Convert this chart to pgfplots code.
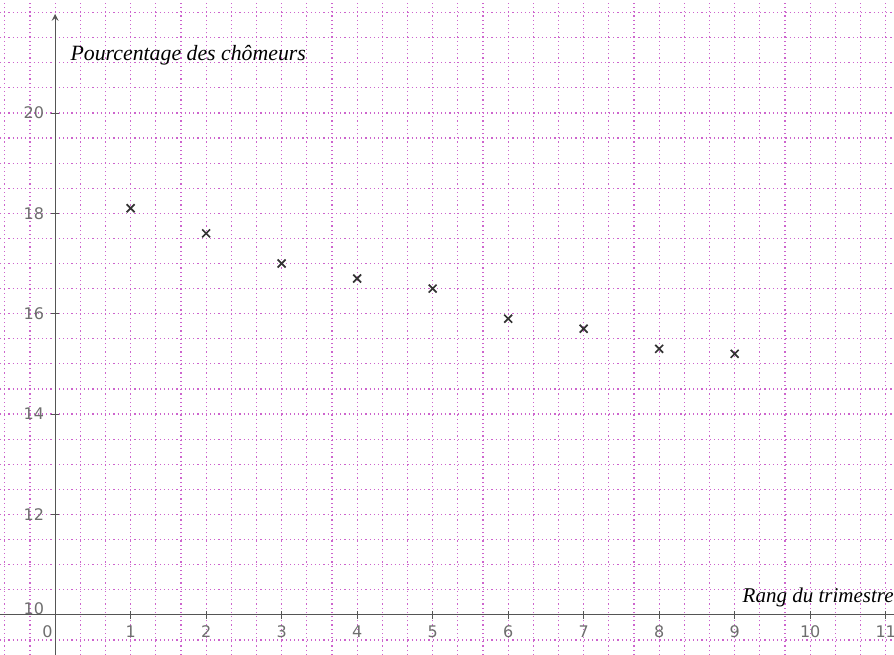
\documentclass[border=0pt]{standalone}
\usepackage{fontspec}
\setmainfont{Liberation Serif}
\setsansfont{DejaVu Sans}
\usepackage{pgfplots}
\pgfplotsset{compat=1.18}
\definecolor{gridmag}{RGB}{205,100,205}
\definecolor{axgray}{RGB}{85,85,85}
\definecolor{labgray}{RGB}{110,110,110}

\begin{document}
\begin{tikzpicture}
\begin{axis}[
    scale only axis,
    width=447pt, height=327.5pt,
    xmin=-0.73, xmax=11.11,
    ymin=9.2, ymax=22.25,
    axis x line=bottom,
    axis y line=middle,
    axis x line shift=-20.1pt,
    hide obscured x ticks=false,
    hide obscured y ticks=false,
    xtick={0,1,...,11},
    xticklabels={\makebox[0pt][r]{0\,},1,2,3,4,5,6,7,8,9,10,11},
    ytick={10,12,...,20},
    yticklabels={\raisebox{6pt}{10},12,14,16,18,20},
    minor xtick={-0.666667,-0.333333,...,11.1},
    minor ytick={9.5,10,...,22},
    grid=both,
    grid style={gridmag, line width=0.6pt, dash pattern=on 0.6pt off 1.5pt},
    minor grid style={gridmag, line width=0.6pt, dash pattern=on 0.6pt off 1.5pt},
    major tick length=4pt,
    minor tick length=0pt,
    tick align=center,
    tick style={axgray, line width=0.4pt},
    axis line style={axgray, line width=0.5pt},
    y axis line style={-stealth, shorten >=7pt},
    x axis line style={-},
    ticklabel style={font=\sffamily\footnotesize, text=labgray},
    /pgf/number format/assume math mode=true,
]
\addplot[only marks, mark=x, mark size=2.8pt,
    mark options={line width=0.85pt, draw=black!80}]
coordinates {
    (1,18.1) (2,17.6) (3,17.0) (4,16.7) (5,16.5)
    (6,15.9) (7,15.7) (8,15.3) (9,15.2)
};
\node[anchor=west, inner sep=0pt, font=\itshape\fontsize{10.9}{13}\selectfont]
    at (axis cs:0.2,21.15) {Pourcentage des chômeurs};
\node[anchor=east, inner sep=0pt, font=\itshape\fontsize{10.5}{13}\selectfont]
    at (axis cs:11.11,10.35) {Rang du trimestre};
\end{axis}
\pgfresetboundingbox
\path (current axis.south west) rectangle (current axis.north east);
\end{tikzpicture}
\end{document}
